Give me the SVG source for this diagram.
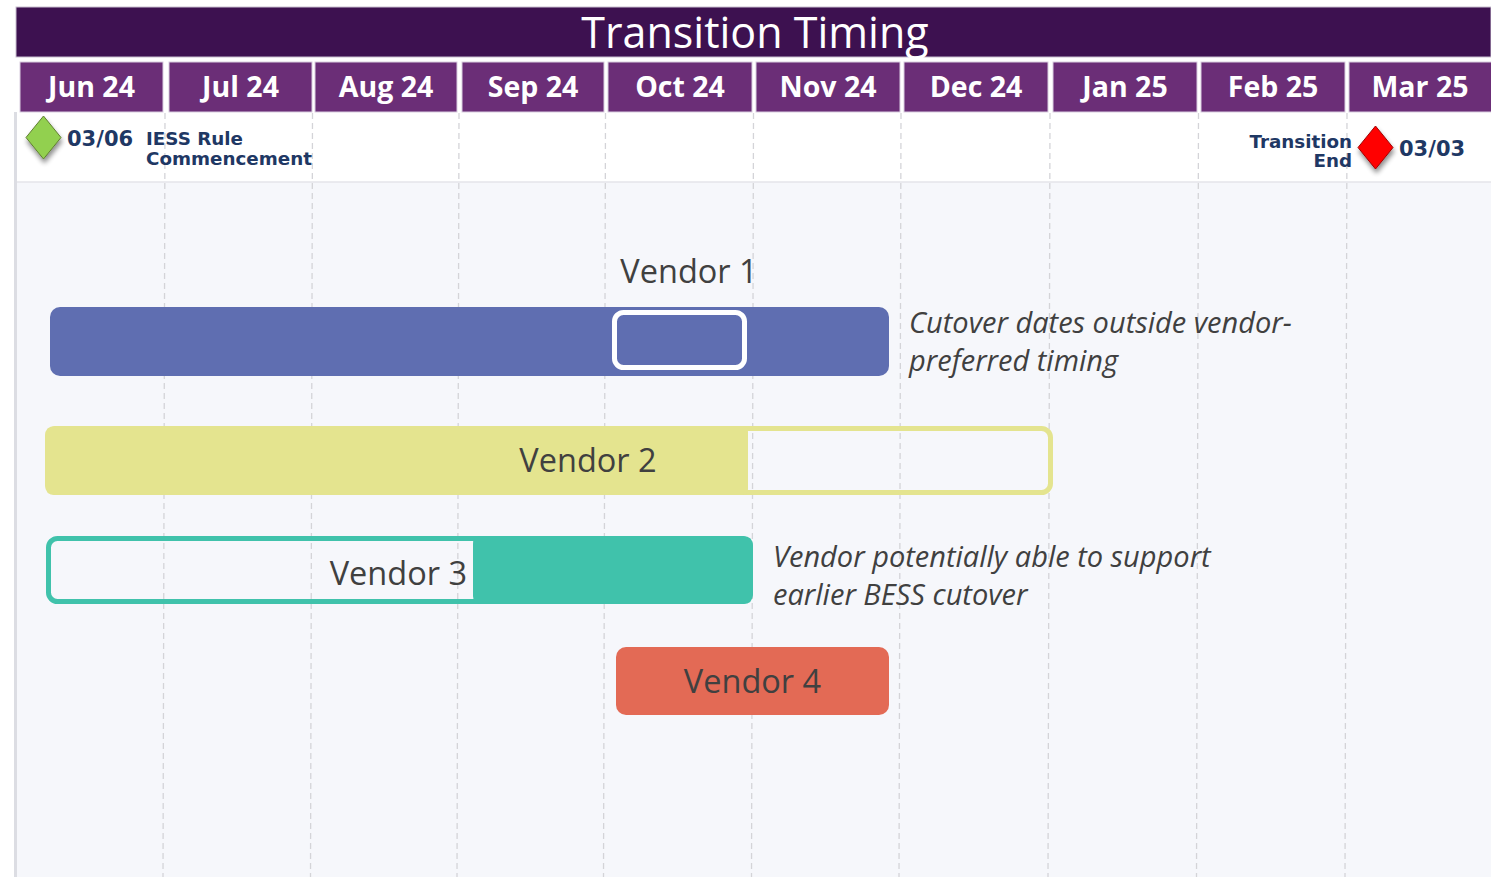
<svg xmlns="http://www.w3.org/2000/svg" width="1491" height="877" viewBox="0 0 1491 877">
<defs>
<style>
.month{fill:#6b2e77;stroke:#d9cde0;stroke-width:1}
.mtxt{font-family:"Open Sans",sans-serif;font-weight:700;font-size:28.5px;fill:#ffffff;text-anchor:middle}
.grid{stroke:#d4d4d8;stroke-width:1.3;stroke-dasharray:6 4;fill:none}
.ms{font-family:"DejaVu Sans",Verdana,sans-serif;font-weight:700;fill:#1f3864}
.vlab{font-family:"Open Sans",sans-serif;font-size:32.5px;fill:#404040}
.note{font-family:"Open Sans",sans-serif;font-style:italic;font-size:29px;fill:#404040}
</style>
<filter id="sh" x="-50%" y="-50%" width="200%" height="200%">
<feGaussianBlur in="SourceAlpha" stdDeviation="2.5"/>
<feOffset dx="1" dy="4" result="b"/>
<feComponentTransfer><feFuncA type="linear" slope="0.45"/></feComponentTransfer>
<feMerge><feMergeNode/><feMergeNode in="SourceGraphic"/></feMerge>
</filter>
</defs>
<rect x="0" y="0" width="1491" height="877" fill="#ffffff"/>
<rect x="16" y="182" width="1475" height="695" fill="#f6f7fb"/>
<line x1="16" y1="182" x2="1491" y2="182" stroke="#e4e5ea" stroke-width="1.5"/>
<rect x="14" y="112" width="3" height="765" fill="#dcdde3"/>

<g id="header">
<rect x="16" y="7" width="1475" height="50" fill="#3d1150" stroke="#c9bfd0" stroke-width="1"/>
<text x="755" y="48" font-family="Open Sans,sans-serif" font-size="43" fill="#ffffff" text-anchor="middle">Transition Timing</text>
</g>

<g id="months">
<rect class="month" x="20" y="62" width="143" height="50"/><text class="mtxt" x="91.5" y="97">Jun 24</text>
<rect class="month" x="169" y="62" width="143" height="50"/><text class="mtxt" x="240.5" y="97">Jul 24</text>
<rect class="month" x="315" y="62" width="142" height="50"/><text class="mtxt" x="386" y="97">Aug 24</text>
<rect class="month" x="462" y="62" width="142" height="50"/><text class="mtxt" x="533" y="97">Sep 24</text>
<rect class="month" x="608" y="62" width="144" height="50"/><text class="mtxt" x="680" y="97">Oct 24</text>
<rect class="month" x="756" y="62" width="144" height="50"/><text class="mtxt" x="828" y="97">Nov 24</text>
<rect class="month" x="904" y="62" width="144" height="50"/><text class="mtxt" x="976" y="97">Dec 24</text>
<rect class="month" x="1053" y="62" width="144" height="50"/><text class="mtxt" x="1125" y="97">Jan 25</text>
<rect class="month" x="1201" y="62" width="144" height="50"/><text class="mtxt" x="1273" y="97">Feb 25</text>
<rect class="month" x="1349" y="62" width="145" height="50"/><text class="mtxt" x="1420" y="97">Mar 25</text>
</g>

<g id="grid">
<line class="grid" x1="165" y1="113" x2="163" y2="877"/>
<line class="grid" x1="312.5" y1="113" x2="310.5" y2="877"/>
<line class="grid" x1="459" y1="113" x2="457" y2="877"/>
<line class="grid" x1="605.5" y1="113" x2="603.5" y2="877"/>
<line class="grid" x1="753.5" y1="113" x2="751.5" y2="877"/>
<line class="grid" x1="901" y1="113" x2="899" y2="877"/>
<line class="grid" x1="1050" y1="113" x2="1048" y2="877"/>
<line class="grid" x1="1198.5" y1="113" x2="1196.5" y2="877"/>
<line class="grid" x1="1347" y1="113" x2="1345" y2="877"/>
</g>

<g id="milestone-start">
<polygon points="43.5,116 61,137.5 43.5,159 26,137.5" fill="#92d050" stroke="#5f7f2f" stroke-width="1" filter="url(#sh)"/>
<text class="ms" x="67" y="146" font-size="21">03/06</text>
<text class="ms" x="146" y="145" font-size="18.3">IESS Rule</text>
<text class="ms" x="146" y="165" font-size="18.3">Commencement</text>
</g>

<g id="milestone-end">
<polygon points="1375.5,126 1393,147.5 1375.5,169 1358,147.5" fill="#ff0000" stroke="#a00000" stroke-width="1" filter="url(#sh)"/>
<text class="ms" x="1352" y="148" font-size="18.3" text-anchor="end">Transition</text>
<text class="ms" x="1352" y="167" font-size="18.3" text-anchor="end">End</text>
<text class="ms" x="1399" y="156" font-size="21">03/03</text>
</g>

<g id="vendor1">
<text class="vlab" x="689" y="283" text-anchor="middle">Vendor 1</text>
<rect x="50" y="307" width="839" height="69" rx="10" fill="#5f6eb1"/>
<rect x="614.5" y="312.5" width="130" height="55" rx="9" fill="none" stroke="#ffffff" stroke-width="5"/>
<text class="note" x="909" y="333">Cutover dates outside vendor-</text>
<text class="note" x="909" y="371">preferred timing</text>
</g>

<g id="vendor2">
<rect x="47.5" y="428.5" width="1003" height="64" rx="9" fill="none" stroke="#e4e48f" stroke-width="5"/>
<path d="M55,426 H742 Q748,426 748,432 V489 Q748,495 742,495 H55 Q45,495 45,485 V436 Q45,426 55,426 Z" fill="#e4e48f"/>
<text class="vlab" x="588" y="472" text-anchor="middle">Vendor 2</text>
</g>

<g id="vendor3">
<rect x="48.5" y="538.5" width="702" height="63" rx="9" fill="none" stroke="#40c2ab" stroke-width="5"/>
<path d="M481,536 H743 Q753,536 753,546 V594 Q753,604 743,604 H481 Q473,604 473,596 V544 Q473,536 481,536 Z" fill="#40c2ab"/>
<text class="vlab" x="467" y="585" text-anchor="end">Vendor 3</text>
<text class="note" x="773" y="567">Vendor potentially able to support</text>
<text class="note" x="773" y="605">earlier BESS cutover</text>
</g>

<g id="vendor4">
<rect x="616" y="647" width="273" height="68" rx="10" fill="#e36a55"/>
<text class="vlab" x="752.5" y="693" text-anchor="middle">Vendor 4</text>
</g>

<g id="connectors"></g>
</svg>
